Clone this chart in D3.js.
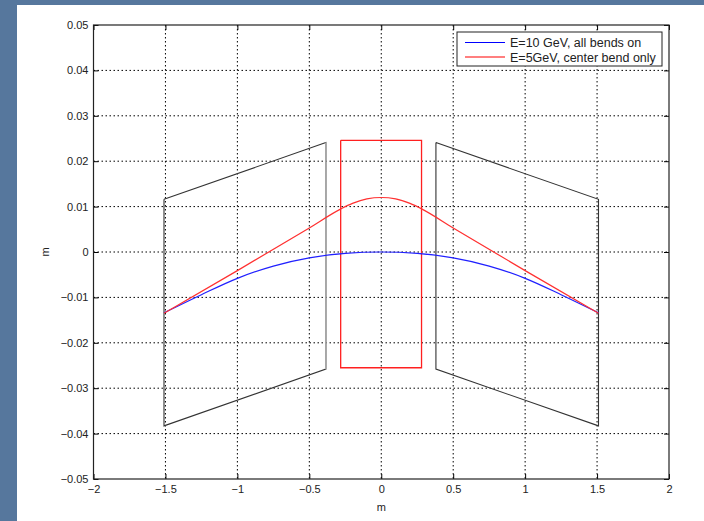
<!DOCTYPE html>
<html lang="en">
<head>
<meta charset="UTF-8">
<title>Beam trajectories through bends</title>
<script src="https://d3js.org/d3.v7.min.js"></script>
<style>
    body { margin: 0; background: #56779d; }
    svg { display: block; }
    text { font-family: "Liberation Sans", Arial, sans-serif; fill: #222; }
    .grid line { stroke: #000; stroke-dasharray: 1.5,2.5; stroke-width: 1; }
</style>
</head>
<body>
<svg width="704" height="521"></svg>
<script>
// axis ticks
const xTicks = [-2, -1.5, -1, -0.5, 0, 0.5, 1, 1.5, 2];
const xTickLabels = ["\u22122", "\u22121.5", "\u22121", "\u22120.5", "0", "0.5", "1", "1.5", "2"];
const yTicks = [-0.05, -0.04, -0.03, -0.02, -0.01, 0, 0.01, 0.02, 0.03, 0.04, 0.05];
const yTickLabels = ["\u22120.05", "\u22120.04", "\u22120.03", "\u22120.02", "\u22120.01", "0", "0.01", "0.02", "0.03", "0.04", "0.05"];

// series (x in m, y in m)
const blueX = [-1.51, -1.25, -1, -0.75, -0.5, -0.25, 0, 0.25, 0.5, 0.75, 1, 1.25, 1.51];
const blueY = [-0.0134, -0.0094, -0.0058, -0.0031, -0.0013, -0.0003, 0, -0.0003, -0.0013, -0.0031, -0.0058, -0.0094, -0.0134];
const redX = [-1.51, -1, -0.5, -0.28, -0.2, -0.1, 0, 0.1, 0.2, 0.28, 0.5, 1, 1.51];
const redY = [-0.0135, -0.0041, 0.0053, 0.0095, 0.0107, 0.0117, 0.012, 0.0117, 0.0107, 0.0095, 0.0053, -0.0041, -0.0135];

// magnet outlines
const leftMagX = [-1.51, -0.385, -0.385, -1.51, -1.51];
const leftMagY = [0.0116, 0.0241, -0.0258, -0.0383, 0.0116];
const rightMagX = [0.38, 1.51, 1.51, 0.38, 0.38];
const rightMagY = [0.0241, 0.0116, -0.0383, -0.0258, 0.0241];
const centerMagX = [-0.282, 0.28, 0.28, -0.282, -0.282];
const centerMagY = [0.0246, 0.0246, -0.0255, -0.0255, 0.0246];

const legendLabels = ["E=10 GeV, all bends on", "E=5GeV, center bend only"];
const legendColors = ["#0000ff", "#ff0000"];

const svg = d3.select("svg");

// white figure area
svg.append("rect").attr("x", 17).attr("y", 5).attr("width", 704 - 17).attr("height", 521 - 5).attr("fill", "#fff");

const pLeft = 93.5, pRight = 669, pTop = 25, pBottom = 479;
const x = d3.scaleLinear().domain([-2, 2]).range([pLeft, pRight]);
const y = d3.scaleLinear().domain([-0.05, 0.05]).range([pBottom, pTop]);

// grid
const grid = svg.append("g").attr("class", "grid");
grid.selectAll(".gx").data(xTicks.slice(1, -1)).enter().append("line")
    .attr("x1", d => x(d)).attr("x2", d => x(d)).attr("y1", pTop).attr("y2", pBottom);
grid.selectAll(".gy").data(yTicks.slice(1, -1)).enter().append("line")
    .attr("x1", pLeft).attr("x2", pRight).attr("y1", d => y(d)).attr("y2", d => y(d));

// axes (ticks inside, like matlab)
const xAxis = d3.axisBottom(x).tickValues(xTicks).tickFormat((d, i) => xTickLabels[i]).tickSizeInner(-5).tickSizeOuter(0).tickPadding(6);
const yAxis = d3.axisLeft(y).tickValues(yTicks).tickFormat((d, i) => yTickLabels[i]).tickSizeInner(-5).tickSizeOuter(0).tickPadding(5);

const gx = svg.append("g").attr("transform", `translate(0,${pBottom})`).call(xAxis);
const gy = svg.append("g").attr("transform", `translate(${pLeft},0)`).call(yAxis);
const gxTop = svg.append("g").attr("transform", `translate(0,${pTop})`)
    .call(d3.axisTop(x).tickValues(xTicks).tickFormat("").tickSizeInner(-5).tickSizeOuter(0));
const gyRight = svg.append("g").attr("transform", `translate(${pRight},0)`)
    .call(d3.axisRight(y).tickValues(yTicks).tickFormat("").tickSizeInner(-5).tickSizeOuter(0));

[gx, gy, gxTop, gyRight].forEach(g => {
    g.selectAll("path").remove();
    g.selectAll("line").attr("stroke", "#000");
    g.selectAll("text").attr("font-size", 11).attr("fill", "#222")
        .attr("font-family", "'Liberation Sans', Arial, sans-serif");
});

svg.append("rect").attr("x", pLeft).attr("y", pTop).attr("width", pRight - pLeft).attr("height", pBottom - pTop)
    .attr("fill", "none").attr("stroke", "#222").attr("stroke-width", 1.2);

// axis labels
svg.append("text").attr("x", (pLeft + pRight) / 2).attr("y", 511).attr("text-anchor", "middle")
    .attr("font-size", 11).text("m");
svg.append("text").attr("transform", `translate(49,${y(0)}) rotate(-90)`).attr("text-anchor", "middle")
    .attr("font-size", 11).text("m");

const plot = svg.append("g");
const polyLine = d3.line().x(d => x(d[0])).y(d => y(d[1]));

// magnets
plot.append("path").datum(d3.zip(leftMagX, leftMagY)).attr("d", polyLine)
    .attr("fill", "none").attr("stroke", "#333").attr("stroke-width", 1.1);
// the right edge of the left magnet looks lighter
plot.append("line").attr("x1", x(leftMagX[1])).attr("x2", x(leftMagX[2]))
    .attr("y1", y(leftMagY[1])).attr("y2", y(leftMagY[2]))
    .attr("stroke", "#aaa").attr("stroke-width", 1.6);
plot.append("path").datum(d3.zip(rightMagX, rightMagY)).attr("d", polyLine)
    .attr("fill", "none").attr("stroke", "#333").attr("stroke-width", 1.1);
plot.append("path").datum(d3.zip(centerMagX, centerMagY)).attr("d", polyLine)
    .attr("fill", "none").attr("stroke", "#ff2020").attr("stroke-width", 1.3);

// trajectories
const smooth = d3.line().x(d => x(d[0])).y(d => y(d[1])).curve(d3.curveMonotoneX);
plot.append("path").datum(d3.zip(blueX, blueY)).attr("d", smooth)
    .attr("fill", "none").attr("stroke", "#2020ff").attr("stroke-width", 1.2);
plot.append("path").datum(d3.zip(redX, redY)).attr("d", smooth)
    .attr("fill", "none").attr("stroke", "#ff3030").attr("stroke-width", 1.2);

// legend
const lg = svg.append("g");
lg.append("rect").attr("x", 457).attr("y", 32).attr("width", 205).attr("height", 34)
    .attr("fill", "#fff").attr("stroke", "#222").attr("stroke-width", 1);
legendLabels.forEach((lab, i) => {
    const ly = 42.5 + i * 14.5;
    lg.append("line").attr("x1", 465).attr("x2", 505).attr("y1", ly).attr("y2", ly)
        .attr("stroke", legendColors[i]).attr("stroke-width", 1.2);
    lg.append("text").attr("x", 510).attr("y", ly + 4.5).attr("font-size", 12.5).text(lab);
});
</script>
</body>
</html>
